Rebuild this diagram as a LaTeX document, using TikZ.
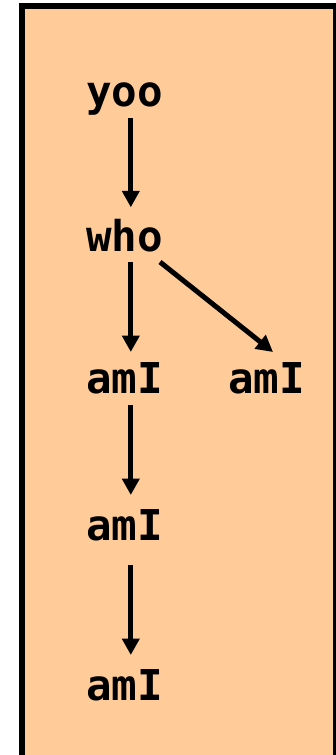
\documentclass[tikz,border=0pt]{standalone}
\usepackage{fontspec}
\setmonofont{DejaVu Sans Mono}
\usetikzlibrary{arrows.meta}
\definecolor{peach}{RGB}{255,204,153}
\tikzset{
  word/.style={anchor=base, inner sep=0pt,
    font=\ttfamily\bfseries\fontsize{42.5}{50}\selectfont},
  link/.style={line width=5pt, -{Triangle[width=17pt,length=16.5pt]}},
  frame/.style={draw=black, fill=peach, line width=6pt}
}
\begin{document}
\begin{tikzpicture}[x=1pt,y=-1pt]
  \useasboundingbox (0,0) rectangle (336,755);
  \begin{scope}
    \clip (0,0) rectangle (336,755);
    \path[frame] (21.8,5.8) rectangle (335.8,762);
  \end{scope}

  \node[word] (yoo)  at (124.5,106.7) {yoo};
  \node[word] (who)  at (124.5,251.7) {who};
  \node[word] (amIa) at (124.5,393.3) {amI};
  \node[word] (amIb) at (266.5,393.3) {amI};
  \node[word] (amIc) at (124.5,540)   {amI};
  \node[word] (amId) at (124.5,700)   {amI};

  \draw[link] ([xshift=6.3pt,yshift=-11.6pt]yoo.base)  -- ([xshift=6.3pt,yshift=44.4pt]who.base);
  \draw[link] ([xshift=6.3pt,yshift=-10.3pt]who.base)  -- ([xshift=6.3pt,yshift=41.3pt]amIa.base);
  \draw[link] ([xshift=35.5pt,yshift=-10.3pt]who.base) -- ([xshift=6.5pt,yshift=41.3pt]amIb.base);
  \draw[link] ([xshift=6.3pt,yshift=-11.7pt]amIa.base) -- ([xshift=6.3pt,yshift=45pt]amIc.base);
  \draw[link] ([xshift=6.3pt,yshift=-25pt]amIc.base)   -- ([xshift=6.3pt,yshift=45pt]amId.base);
\end{tikzpicture}
\end{document}
